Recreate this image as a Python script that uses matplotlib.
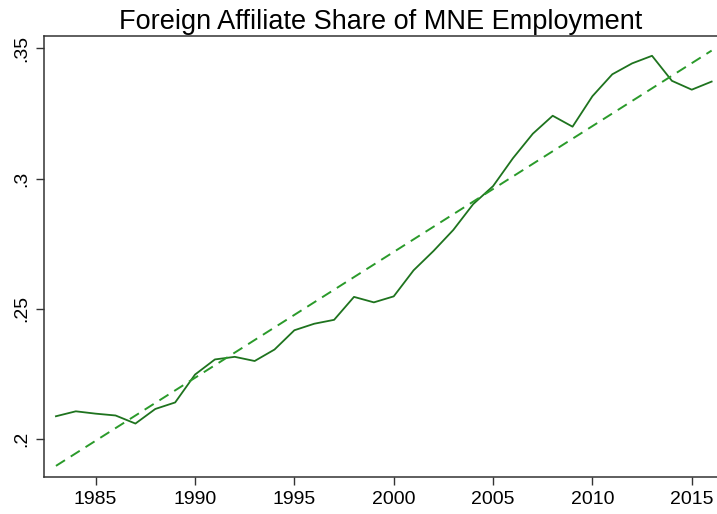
import numpy as np
import matplotlib.pyplot as plt

plt.rcParams['font.family'] = ['Liberation Sans', 'DejaVu Sans']

# Foreign affiliate share of MNE employment, by year
years = np.arange(1983, 2017)
share = [0.2088, 0.2107, 0.2098, 0.2091, 0.2060, 0.2116, 0.2141, 0.2248,
         0.2306, 0.2316, 0.2300, 0.2344, 0.2418, 0.2443, 0.2458, 0.2546,
         0.2525, 0.2548, 0.2648, 0.2722, 0.2803, 0.2902, 0.2971, 0.3078,
         0.3172, 0.3241, 0.3199, 0.3316, 0.3400, 0.3442, 0.3471, 0.3375,
         0.3341, 0.3372]

xticks = [1985, 1990, 1995, 2000, 2005, 2010, 2015]
yticks = [0.2, 0.25, 0.3, 0.35]
ylabels = ['.2', '.25', '.3', '.35']

# linear fit, as in the original (lfit)
b, a = np.polyfit(years, share, 1)
fit = a + b * years

fig = plt.figure(figsize=(7.17, 5.14), dpi=100)
ax = fig.add_axes([0.0614, 0.072, 0.9386, 0.8585])

ax.plot(years, share, color='#1e731e', lw=1.3)
ax.plot(years, fit, color='#2a9a2a', lw=1.4, linestyle=(0, (5.5, 3.5)))

ax.set_xlim(1982.4, 2016.27)
ax.set_ylim(0.1855, 0.3548)
ax.set_xticks(xticks)
ax.set_yticks(yticks)
ax.set_yticklabels(ylabels, rotation=90, va='center')
ax.tick_params(labelsize=14, length=6, width=1, color='#333333', pad=4)

for s in ['left', 'bottom', 'top']:
    ax.spines[s].set_color('#333333')
    ax.spines[s].set_linewidth(1.1)
ax.spines['right'].set_visible(False)

ax.set_title('Foreign Affiliate Share of MNE Employment', fontsize=19.5, pad=5)

plt.savefig('out.png', dpi=100)
